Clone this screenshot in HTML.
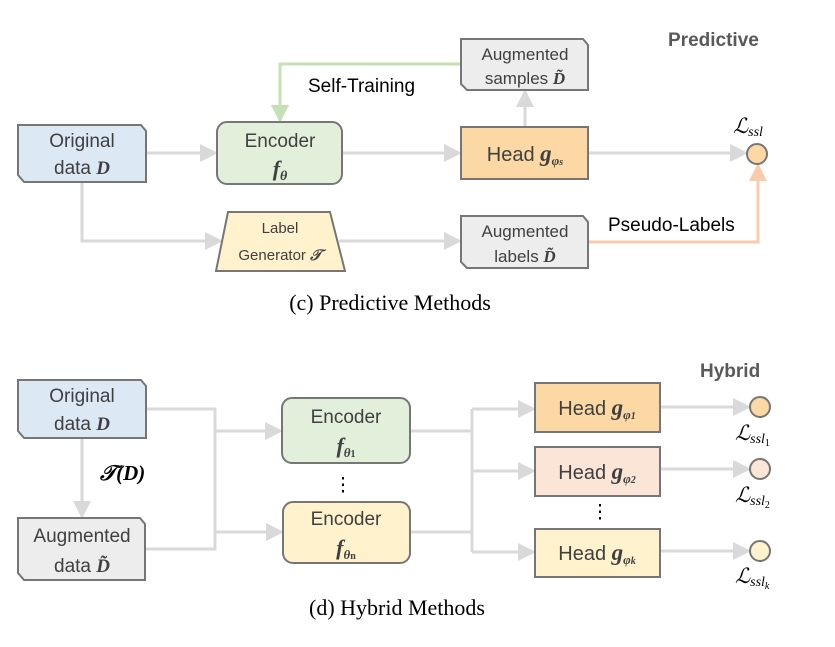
<!DOCTYPE html>
<html><head><meta charset="utf-8"><style>
html,body{margin:0;padding:0;background:#fff;}
svg{display:block;}
text{font-family:"Liberation Sans",sans-serif;}
.s{font-family:"Liberation Serif",serif;}
</style></head><body>
<svg width="835" height="647" viewBox="0 0 835 647" xmlns="http://www.w3.org/2000/svg">
<defs>
<marker id="ag" markerWidth="6" markerHeight="6" refX="5" refY="3" orient="auto" markerUnits="strokeWidth"><path d="M0,0 L6,3 L0,6z" fill="#d9d9d9"/></marker>
<marker id="agr" markerWidth="6" markerHeight="6" refX="5" refY="3" orient="auto" markerUnits="strokeWidth"><path d="M0,0 L6,3 L0,6z" fill="#c5e0b4"/></marker>
<marker id="aor" markerWidth="6" markerHeight="6" refX="5" refY="3" orient="auto" markerUnits="strokeWidth"><path d="M0,0 L6,3 L0,6z" fill="#f8cbad"/></marker>
</defs>
<g fill="none" stroke-width="3">
<!-- top connectors -->
<path d="M146,153 H215" stroke="#d9d9d9" marker-end="url(#ag)"/>
<path d="M342,153 H459" stroke="#d9d9d9" marker-end="url(#ag)"/>
<path d="M588,153 H745" stroke="#d9d9d9" marker-end="url(#ag)"/>
<path d="M525,127 V92" stroke="#d9d9d9" marker-end="url(#ag)"/>
<path d="M82,182 V241 H220" stroke="#d9d9d9" marker-end="url(#ag)"/>
<path d="M339,241 H459" stroke="#d9d9d9" marker-end="url(#ag)"/>
<path d="M461,64 H280 V120" stroke="#c5e0b4" marker-end="url(#agr)"/>
<path d="M588,242 H758 V166" stroke="#f8cbad" marker-end="url(#aor)"/>
<!-- bottom connectors -->
<path d="M82,438 V516" stroke="#d9d9d9" marker-end="url(#ag)"/>
<path d="M146,409 H215 V549 H145" stroke="#d9d9d9"/>
<path d="M215,431 H280" stroke="#d9d9d9" marker-end="url(#ag)"/>
<path d="M215,532 H281" stroke="#d9d9d9" marker-end="url(#ag)"/>
<path d="M410,431 H472" stroke="#d9d9d9"/>
<path d="M410,532 H472" stroke="#d9d9d9"/>
<path d="M472,409 V552" stroke="#d9d9d9"/>
<path d="M472,409 H533" stroke="#d9d9d9" marker-end="url(#ag)"/>
<path d="M472,471 H533" stroke="#d9d9d9" marker-end="url(#ag)"/>
<path d="M472,552 H533" stroke="#d9d9d9" marker-end="url(#ag)"/>
<path d="M660,407 H748" stroke="#d9d9d9" marker-end="url(#ag)"/>
<path d="M660,469 H748" stroke="#d9d9d9" marker-end="url(#ag)"/>
<path d="M660,551 H748" stroke="#d9d9d9" marker-end="url(#ag)"/>
</g>
<g stroke="#767676" stroke-width="2">
<!-- top shapes -->
<path d="M18,125 H141 L146,131 V182 H24 L18,175 Z" fill="#dde8f5"/>
<rect x="217" y="122" width="125" height="62" rx="10" fill="#e2efda"/>
<path d="M228,212 H330 L345,271 H216 Z" fill="#fff2cc"/>
<path d="M461,39 H583 L588,45 V90 H467 L461,84 Z" fill="#ededed"/>
<rect x="461" y="127" width="127" height="52" fill="#fcd9a4"/>
<path d="M461,216 H583 L588,222 V268 H467 L461,262 Z" fill="#ededed"/>
<circle cx="757" cy="154" r="10" fill="#fcd9a4"/>
<!-- bottom shapes -->
<path d="M18,380 H141 L146,386 V438 H24 L18,431 Z" fill="#dde8f5"/>
<path d="M18,518 H140 L145,524 V580 H24 L18,573 Z" fill="#ededed"/>
<rect x="282" y="398" width="128" height="65" rx="10" fill="#e2efda"/>
<rect x="283" y="502" width="127" height="61" rx="10" fill="#fff2cc"/>
<rect x="535" y="383" width="125" height="49" fill="#fcd9a4"/>
<rect x="535" y="447" width="125" height="49" fill="#fbe5d6"/>
<rect x="535" y="529" width="125" height="48" fill="#fff2cc"/>
<circle cx="760" cy="407" r="10" fill="#fcd9a4"/>
<circle cx="760" cy="469" r="10" fill="#fbe5d6"/>
<circle cx="760" cy="551" r="10" fill="#fff2cc"/>
</g>
<g fill="#404040" font-size="19" text-anchor="middle">
<text x="82" y="147">Original</text>
<text x="82" y="174">data <tspan class="s" font-weight="bold" font-style="italic">D</tspan></text>
<text x="280" y="147">Encoder</text>
<text x="280" y="176" class="s" font-weight="bold" font-style="italic" font-size="22">f<tspan font-size="14" dy="4">θ</tspan></text>
<text x="280" y="233" font-size="15">Label</text>
<text x="280" y="260" font-size="15">Generator <tspan class="s" font-style="italic" font-weight="bold">𝒯</tspan></text>
<text x="525" y="60" font-size="17">Augmented</text>
<text x="525" y="84" font-size="17">samples <tspan class="s" font-weight="bold" font-style="italic">D̃</tspan></text>
<text x="525" y="161" font-size="20">Head <tspan class="s" font-weight="bold" font-style="italic" font-size="23">g</tspan><tspan class="s" font-weight="bold" font-style="italic" font-size="13" dy="4">φ<tspan font-size="10">s</tspan></tspan></text>
<text x="525" y="237" font-size="17">Augmented</text>
<text x="525" y="262" font-size="17">labels <tspan class="s" font-weight="bold" font-style="italic">D̃</tspan></text>
</g>
<text x="308" y="92" font-size="19" fill="#000">Self-Training</text>
<text x="608" y="231" font-size="19" fill="#000">Pseudo-Labels</text>
<text x="668" y="46" font-size="19" font-weight="bold" fill="#595959">Predictive</text>
<text x="733" y="133" class="s" font-style="italic" font-size="21" fill="#000">ℒ<tspan font-size="14" dy="3">ssl</tspan></text>
<text x="390" y="310" class="s" font-size="22" fill="#000" text-anchor="middle">(c) Predictive Methods</text>

<g fill="#404040" font-size="19" text-anchor="middle">
<text x="82" y="402">Original</text>
<text x="82" y="430">data <tspan class="s" font-weight="bold" font-style="italic">D</tspan></text>
<text x="82" y="542">Augmented</text>
<text x="82" y="572">data <tspan class="s" font-weight="bold" font-style="italic">D̃</tspan></text>
<text x="346" y="423">Encoder</text>
<text x="346" y="453" class="s" font-weight="bold" font-style="italic" font-size="22">f<tspan font-size="13" dy="4">θ<tspan font-size="10" font-style="normal">1</tspan></tspan></text>
<text x="346" y="525">Encoder</text>
<text x="346" y="555" class="s" font-weight="bold" font-style="italic" font-size="22">f<tspan font-size="13" dy="4">θ<tspan font-size="10" font-style="normal">n</tspan></tspan></text>
<text x="597" y="415" font-size="20">Head <tspan class="s" font-weight="bold" font-style="italic" font-size="23">g</tspan><tspan class="s" font-weight="bold" font-style="italic" font-size="13" dy="4">φ<tspan font-size="10">1</tspan></tspan></text>
<text x="597" y="479" font-size="20">Head <tspan class="s" font-weight="bold" font-style="italic" font-size="23">g</tspan><tspan class="s" font-weight="bold" font-style="italic" font-size="13" dy="4">φ<tspan font-size="10">2</tspan></tspan></text>
<text x="597" y="560" font-size="20">Head <tspan class="s" font-weight="bold" font-style="italic" font-size="23">g</tspan><tspan class="s" font-weight="bold" font-style="italic" font-size="13" dy="4">φ<tspan font-size="10">k</tspan></tspan></text>
<text x="343" y="491" fill="#000">⋮</text>
<text x="600" y="518" fill="#000">⋮</text>
</g>
<text x="100" y="480" class="s" font-style="italic" font-weight="bold" font-size="21" fill="#000">𝒯(D)</text>
<text x="700" y="377" font-size="19" font-weight="bold" fill="#595959">Hybrid</text>
<text x="735" y="440" class="s" font-style="italic" font-size="21" fill="#000">ℒ<tspan font-size="14" dy="3">ssl<tspan font-size="10" dy="3" font-style="normal">1</tspan></tspan></text>
<text x="735" y="502" class="s" font-style="italic" font-size="21" fill="#000">ℒ<tspan font-size="14" dy="3">ssl<tspan font-size="10" dy="3" font-style="normal">2</tspan></tspan></text>
<text x="735" y="583" class="s" font-style="italic" font-size="21" fill="#000">ℒ<tspan font-size="14" dy="3">ssl<tspan font-size="10" dy="3">k</tspan></tspan></text>
<text x="397" y="615" class="s" font-size="22" fill="#000" text-anchor="middle">(d) Hybrid Methods</text>
</svg>
</body></html>
